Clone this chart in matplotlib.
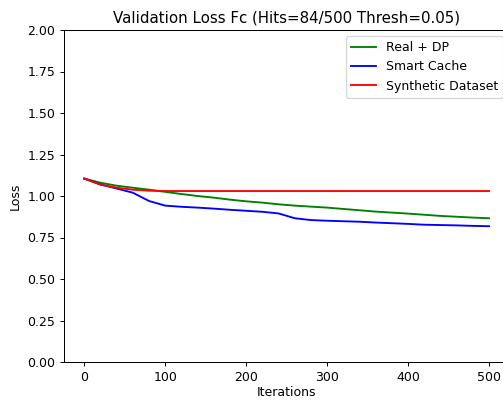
import numpy as np
import matplotlib.pyplot as plt

iterations = np.arange(0, 501, 20)
real_dp = [1.105, 1.08, 1.062, 1.05, 1.038, 1.025, 1.012, 1.0, 0.99, 0.978,
           0.968, 0.96, 0.95, 0.942, 0.936, 0.93, 0.922, 0.914, 0.906, 0.9,
           0.894, 0.887, 0.88, 0.875, 0.87, 0.866]
smart_cache = [1.105, 1.07, 1.045, 1.02, 0.97, 0.942, 0.935, 0.93, 0.924, 0.917,
               0.911, 0.905, 0.895, 0.866, 0.855, 0.851, 0.848, 0.845, 0.84, 0.836,
               0.832, 0.827, 0.825, 0.823, 0.82, 0.818]
synthetic = [1.105, 1.068, 1.05, 1.038, 1.032, 1.03] + [1.03] * 20

# reference looks like it was rendered at ~90 dpi
dpi = 90
fig = plt.figure(figsize=(503 / dpi, 400 / dpi), dpi=dpi)
ax = fig.add_axes([64 / 503, 38 / 400, 445.25 / 503, 332 / 400])
ax.plot(iterations, real_dp, color='green', label='Real + DP')
ax.plot(iterations, smart_cache, color='blue', label='Smart Cache')
ax.plot(iterations, synthetic, color='red', label='Synthetic Dataset')
ax.set_ylim(0, 2)
ax.set_xlabel('Iterations', labelpad=2)
ax.set_ylabel('Loss')
ax.set_title('Validation Loss Fc (Hits=84/500 Thresh=0.05)')
ax.legend(loc='upper right')
fig.savefig('out.png', dpi=dpi)
